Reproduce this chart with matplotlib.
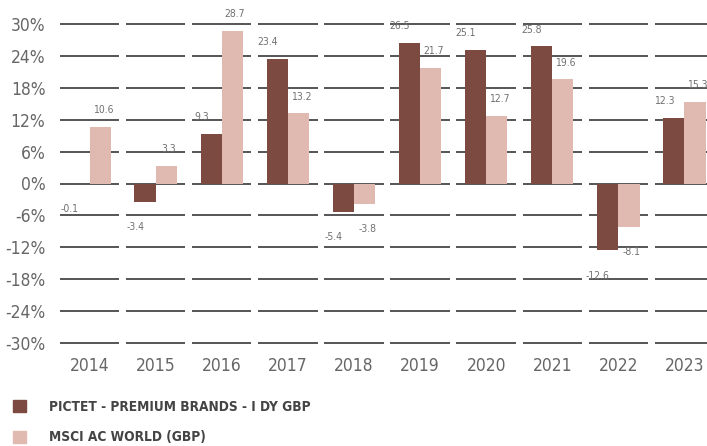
import numpy as np
import matplotlib
matplotlib.use("Agg")
import matplotlib.pyplot as plt
from matplotlib.patches import Patch
from matplotlib import font_manager

years = ["2014", "2015", "2016", "2017", "2018", "2019", "2020", "2021", "2022", "2023"]
fund = [-0.1, -3.4, 9.3, 23.4, -5.4, 26.5, 25.1, 25.8, -12.6, 12.3]
index = [10.6, 3.3, 28.7, 13.2, -3.8, 21.7, 12.7, 19.6, -8.1, 15.3]
yticks = [30, 24, 18, 12, 6, 0, -6, -12, -18, -24, -30]
names = ["PICTET - PREMIUM BRANDS - I DY GBP", "MSCI AC WORLD (GBP)"]

dark = "#7d4a41"
light = "#e0bab0"
grey = "#666666"
gridc = "#555555"

# look for a condensed upright face, like the original narrow font
cands = []
for f in font_manager.fontManager.ttflist:
    st = str(f.stretch).lower()
    nm = (f.name + " " + f.fname).lower()
    if f.style != "normal":
        continue
    if "narrow" in nm or "condensed" in nm or st in ("condensed", "semi-condensed", "extra-condensed", "575", "625", "750"):
        cands.append(f)
reg = [f for f in cands if f.weight in (400, "normal", "regular")]
bld = [f for f in cands if f.weight in (600, 700, "bold", "semibold")]
if reg:
    fp = font_manager.FontProperties(fname=reg[0].fname)
else:
    fp = font_manager.FontProperties(family="Liberation Sans")
if bld:
    fpb = font_manager.FontProperties(fname=bld[0].fname)
else:
    fpb = font_manager.FontProperties(family="Liberation Sans", weight="bold")

W, H = 707, 446
fig = plt.figure(figsize=(W / 100, H / 100), dpi=100)
left = 56.5 / W
ax = fig.add_axes([left, 1 - 343 / H, 1 - left, (343 - 24) / H])

x = np.arange(len(years))
bw = 0.32
ax.bar(x - bw / 2, fund, bw, color=dark, zorder=3)
ax.bar(x + bw / 2, index, bw, color=light, zorder=3)

for t in yticks:
    ax.hlines([t] * len(x), x - 0.45, x + 0.45, color=gridc, lw=1.4, zorder=2, clip_on=False)

def lab(xp, v):
    p = fp.copy()
    p.set_size(7.5)
    if v >= 0:
        ax.text(xp, v + 2.2, f"{v:.1f}", ha="center", va="bottom", fontproperties=p, color="#707070", zorder=4)
    else:
        ax.text(xp, v - 3.8, f"{v:.1f}", ha="center", va="top", fontproperties=p, color="#707070", zorder=4)

for i in range(len(x)):
    lab(x[i] - 0.31, fund[i])
    lab(x[i] + 0.2, index[i])

ax.set_xlim(-0.5, (W - 56.5) / 66.1 - 0.5)
ax.set_ylim(-30, 30)
tp = fp.copy()
tp.set_size(12.5)
ax.set_yticks(yticks)
ax.set_yticklabels([f"{t}%" for t in yticks], fontproperties=tp, color=grey)
ax.set_xticks(x)
ax.set_xticklabels(years, fontproperties=tp, color=grey)
ax.tick_params(length=0, axis="y", pad=8)
ax.tick_params(length=0, axis="x", pad=10)
for s in ax.spines.values():
    s.set_visible(False)

lp = fpb.copy()
lp.set_size(9.8)
handles = [Patch(color=dark), Patch(color=light)]
fig.legend(handles, names, loc="upper left", bbox_to_anchor=(0.018, 1 - 400 / H),
           frameon=False, handlelength=0.95, handleheight=0.95, handletextpad=1.75,
           labelspacing=1.2, prop=lp, labelcolor="#444444", borderaxespad=0, borderpad=0)

fig.savefig("out.png", dpi=100)
